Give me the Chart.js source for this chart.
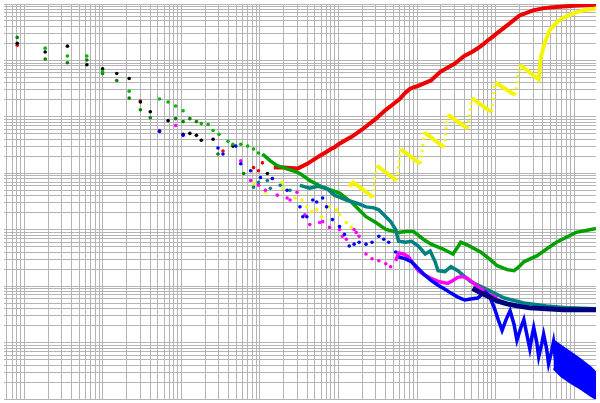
<!DOCTYPE html>
<html>
<head>
<meta charset="utf-8">
<title>log-log plot</title>
<script src="https://cdn.jsdelivr.net/npm/chart.js"></script>
<style>
  body { margin: 0; background: #fff; }
  #chart { display: block; }
</style>
</head>
<body>
<canvas id="chart" width="600" height="403"></canvas>
<script>
// axis range (log-log, no labels)
const xMin = 0.55, xMax = 1.9e7;
const yMin = 1, yMax = 1e7;

// early sparse points of each series, [x, y]
const blackPts = [[0.81,2.02e6],[1.84,1.41e6],[3.53,1.79e6],[6.24,8.38e5],[9.9,7.14e5],[15,5.85e5],[21.6,4.79e5],[30,1.83e5],[40.1,1.23e5],[67.5,8.57e4],[105,4.9e4],[128,5.09e4],[155,4.7e4],[179,3.85e4],[253,4.01e4],[452,3.03e4],[1242,9.89e3]];
const darkGreenPts = [[0.81,2.56e6],[1.84,1.06e6],[3.53,9.08e5],[6.24,1.02e6],[9.9,5.85e5],[15,4.42e5],[21.6,2.15e5],[30,1.33e5],[40.1,9.66e4],[84.3,9.29e4],[105,8.24e4],[128,9.29e4],[155,8.24e4],[292,2.2e4],[621,9.89e3]];
const greenPts = [[1.84,1.65e6],[3.53,1.2e6],[6.24,1.2e6],[9.9,6.32e5],[21.6,2.84e5],[52.6,2.07e5],[67.5,1.83e5],[84.3,1.56e5],[105,1.28e5],[179,7.6e4],[219,7.3e4],[253,5.74e4],[301,4.9e4],[391,3.7e4],[452,3.28e4],[569,3.28e4],[697,3.03e4],[828,2.69e4],[957,2.29e4]];
const redPts = [[0.81,1.86e6],[30,1.91e5],[52.6,5.74e4],[338,2.48e4],[828,1.26e4],[957,1.11e4],[1075,1.53e4]];
const bluePts = [[52.6,5.52e4],[105,4.7e4],[292,2.8e4],[338,2.2e4],[492,3.03e4],[569,1.48e4],[760,1.11e4],[1015,8.43e3],[1436,8.09e3],[2215,5.01e3],[3228,2.54e3],[3516,1.7e3],[3954,1.7e3],[4699,3.36e3],[5277,3.1e3],[6280,3.64e3],[7047,2.54e3],[8375,1.51e3],[1.03e4,1.14e3],[1.19e4,828],[1.37e4,513],[1.58e4,555],[1.83e4,601],[2.24e4,555],[2.67e4,601],[3.26e4,764],[3.77e4,678],[4.36e4,601],[5.33e4,403]];
const magentaPts = [[84.3,7.02e4],[569,1.66e4],[760,7.47e3],[957,6.12e3],[1172,5.01e3],[1436,8.09e3],[1660,4.1e3],[2215,3.64e3],[2415,3.36e3],[2958,4.62e3],[3730,1.84e3],[4305,1.24e3],[5754,1.34e3],[6280,1.39e3],[7691,1.1e3],[1.03e4,1.01e3],[1.12e4,764],[1.26e4,678],[1.58e4,1.01e3],[1.68e4,897],[1.83e4,764],[2.24e4,372],[2.67e4,305],[3.26e4,281],[4.0e4,249],[4.61e4,221]];
const yellowPts = [[828,6.62e3],[1172,4.62e3],[1918,6.9e3],[1973,5.42e3],[2793,3.64e3],[3420,3.36e3],[3954,2.54e3],[4562,2.08e3],[5277,2.25e3],[6095,1.7e3],[7691,2.54e3],[9419,2.25e3],[1.03e4,1.84e3],[1.26e4,1.34e3],[1.45e4,1.1e3]];
const tealPts = [[828,5.65e3],[957,6.9e3],[1242,7.47e3],[1355,5.42e3],[1811,6.12e3],[2415,5.01e3]];

// dense parts, drawn as continuous lines, [x, y]
const redLine = [[1.5e3,1.26e4],[2e3,1.26e4],[3e3,1.21e4],[4e3,1.47e4],[5e3,1.8e4],[6e3,2.11e4],[7e3,2.38e4],[8e3,2.69e4],[9e3,2.91e4],[1e4,3.28e4],[1.5e4,4.52e4],[2e4,5.98e4],[3e4,9.29e4],[4e4,1.33e5],[5e4,1.69e5],[6e4,2.07e5],[7e4,2.62e5],[8e4,3.08e5],[9e4,3.34e5],[1e5,3.48e5],[1.5e5,4.42e5],[2e5,6.34e5],[3e5,8.73e5],[4e5,1.2e6],[5e5,1.41e6],[6e5,1.66e6],[7e5,1.94e6],[8e5,2.28e6],[9e5,2.57e6],[1e6,2.9e6],[1.5e6,4.5e6],[2e6,6.19e6],[3e6,7.71e6],[4e6,8.36e6],[5e6,8.69e6],[6e6,8.87e6],[8e6,9.12e6],[1e7,9.31e6],[1.5e7,9.53e6],[1.9e7,9.68e6]];
const yellowLine = [[1.37e4,5.88e3],[1.54e4,6.9e3],[2.74e4,3.78e3],[3.08e4,1.36e4],[5.5e4,7.47e3],[6.17e4,2.69e4],[1.1e5,1.48e4],[1.24e5,5.31e4],[2.2e5,2.91e4],[2.47e5,1.09e5],[4.42e5,6.22e4],[4.95e5,2.15e5],[8.83e5,1.23e5],[9.91e5,4.07e5],[1.77e6,2.43e5],[2.04e6,8.38e5],[3.54e6,4.6e5],[3.75e6,1.11e6],[4.21e6,2.02e6],[4.86e6,3.4e6],[5.96e6,4.68e6],[7.3e6,5.71e6],[9.75e6,6.84e6],[1.3e7,7.71e6],[1.9e7,8.36e6]];
const greenLine = [[1075,2.2e4],[1355,1.66e4],[1660,1.36e4],[1973,1.26e4],[2636,1.11e4],[3228,9.89e3],[4305,7.47e3],[6280,5.65e3],[1.03e4,4.45e3],[1.5e4,2.98e3],[2.24e4,1.7e3],[2.99e4,1.34e3],[4.0e4,1.01e3],[5.82e4,897],[7.13e4,933],[8.99e4,933],[1.2e5,678],[1.51e5,555],[2.14e5,455],[2.86e5,372],[3.3e5,492],[3.6e5,601],[4.42e5,533],[6.43e5,403],[8.34e5,305],[1.05e6,230],[1.4e6,196],[1.72e6,188],[1.99e6,221],[2.29e6,270],[3.34e6,344],[4.47e6,455],[5.96e6,601],[7.96e6,735],[1.06e7,897],[1.42e7,972],[1.9e7,1.05e3]];
const tealLine = [[3228,6.12e3],[4305,5.42e3],[5433,5.88e3],[7047,5.42e3],[8872,4.1e3],[1.26e4,3.36e3],[1.68e4,2.98e3],[2.24e4,2.54e3],[2.82e4,2.44e3],[3.26e4,2.25e3],[4.0e4,1.7e3],[4.61e4,1.39e3],[5.33e4,1.01e3],[5.82e4,625],[7.13e4,601],[8.48e4,625],[1.04e5,513],[1.27e5,372],[1.47e5,420],[1.7e5,270],[1.85e5,188],[2.27e5,181],[2.7e5,221],[3.3e5,188],[4.05e5,148],[4.81e5,121],[6.43e5,99.5],[8.57e5,81.5],[1.29e6,61.5],[2.29e6,50.4],[4.47e6,44.7],[8.67e6,41.2],[1.9e7,39.6]];
const magentaLine = [[5.33e4,281],[5.82e4,387],[6.73e4,372],[7.78e4,330],[8.99e4,249],[1.04e5,188],[1.27e5,155],[1.51e5,137],[1.85e5,121],[2.47e5,112],[2.86e5,126],[3.3e5,143],[3.82e5,148],[4.42e5,137],[5.1e5,117],[5.89e5,99.5],[7.21e5,81.5],[8.57e5,69.4],[1.05e6,61.5]];
const blueLine = [[5.82e4,330],[7.13e4,305],[8.48e4,270],[1.04e5,204],[1.27e5,155],[1.51e5,126],[1.85e5,104],[2.27e5,88.3],[2.7e5,75.2],[3.3e5,64],[4.05e5,56.8],[4.81e5,59.2],[5.89e5,61.5],[6.81e5,72.2],[7.43e5,78.2],[8.34e5,66.7],[9.64e5,41.2],[1.08e6,25.5],[1.21e6,16.4],[1.36e6,25.5],[1.53e6,36.6],[1.72e6,20.9],[1.87e6,11],[2.1e6,18.5],[2.29e6,25.5],[2.5e6,14],[2.73e6,7.69],[2.89e6,12.4],[3.06e6,18.5],[3.34e6,10.2],[3.54e6,5.58],[3.86e6,9.4],[4.09e6,14],[4.47e6,7.69],[4.73e6,4.22],[5.15e6,6.82],[5.46e6,10.2],[5.79e6,5.15],[6.14e6,8.34]];
const blueBandTop = [[5.46e6,11],[6.89e6,8.67],[9.2e6,6.55],[1.23e7,4.95],[1.64e7,3.6],[1.9e7,2.94]];
const blueBandBottom = [[5.46e6,3.45],[6.89e6,2.51],[9.2e6,1.9],[1.23e7,1.49],[1.64e7,1.13],[1.9e7,1]];
const navyLine = [[5.1e5,91.8],[5.89e5,81.5],[7.87e5,66.7],[1.05e6,54.6],[1.4e6,48.4],[1.87e6,44.7],[2.73e6,41.2],[4.47e6,39.6],[7.3e6,38.1],[1.23e7,38.1],[1.9e7,38.1]];

const pts = arr => arr.map(([x, y]) => ({x, y}));

function line(data, color, width) {
    return { data: pts(data), borderColor: color, backgroundColor: color, borderWidth: width,
             pointRadius: 0, fill: false, tension: 0, showLine: true };
}
function dots(data, color) {
    return { data: pts(data), backgroundColor: color, borderColor: color, borderWidth: 0,
             pointRadius: 1.8, showLine: false };
}

// grid lines at 1..9 x 10^n, like a log paper
function logTicks(scale) {
    const ticks = [];
    for (let e = Math.floor(Math.log10(scale.min)); e <= Math.ceil(Math.log10(scale.max)); e++) {
        for (let k = 1; k <= 9; k++) {
            const v = k * Math.pow(10, e);
            if (v >= scale.min && v <= scale.max) ticks.push({ value: v });
        }
    }
    scale.ticks = ticks;
}

const gridColor = '#b4b4b4';

// the yellow jumps are sparse, so draw the steep rises dotted
const yellow = line(yellowLine, '#f5f500', 4);
yellow.segment = {
    borderDash: ctx => ctx.p1.parsed.y > ctx.p0.parsed.y * 3 ? [2, 4] : undefined,
    borderWidth: ctx => ctx.p1.parsed.y > ctx.p0.parsed.y * 3 ? 3 : undefined
};

new Chart(document.getElementById('chart'), {
    type: 'line',
    data: {
        datasets: [
            line(navyLine, '#000080', 5),
            line(blueBandTop, '#0000ff', 2),
            Object.assign(line(blueBandBottom, '#0000ff', 2), { fill: '-1' }),
            line(blueLine, '#0000ff', 3.5),
            dots(bluePts, '#0000ff'),
            line(magentaLine, '#ff00ff', 3.5),
            dots(magentaPts, '#ff00ff'),
            line(tealLine, '#008080', 3.5),
            dots(tealPts, '#008080'),
            line(greenLine, '#00a000', 3.5),
            dots(greenPts, '#00b400'),
            yellow,
            dots(yellowPts, '#f5f500'),
            line(redLine, '#ee0000', 4),
            dots(blackPts, '#000000'),
            dots(redPts, '#ee0000'),
            dots(darkGreenPts, '#008000')
        ]
    },
    options: {
        responsive: false,
        animation: false,
        events: [],
        layout: { padding: 0 },
        plugins: { legend: { display: false }, tooltip: { enabled: false } },
        scales: {
            x: {
                type: 'logarithmic', min: xMin, max: xMax,
                afterBuildTicks: logTicks,
                ticks: { display: false },
                border: { display: false },
                grid: { color: gridColor, drawTicks: false }
            },
            y: {
                type: 'logarithmic', min: yMin, max: yMax,
                afterBuildTicks: logTicks,
                ticks: { display: false },
                border: { display: false },
                grid: { color: gridColor, drawTicks: false }
            }
        }
    }
});
</script>
</body>
</html>
